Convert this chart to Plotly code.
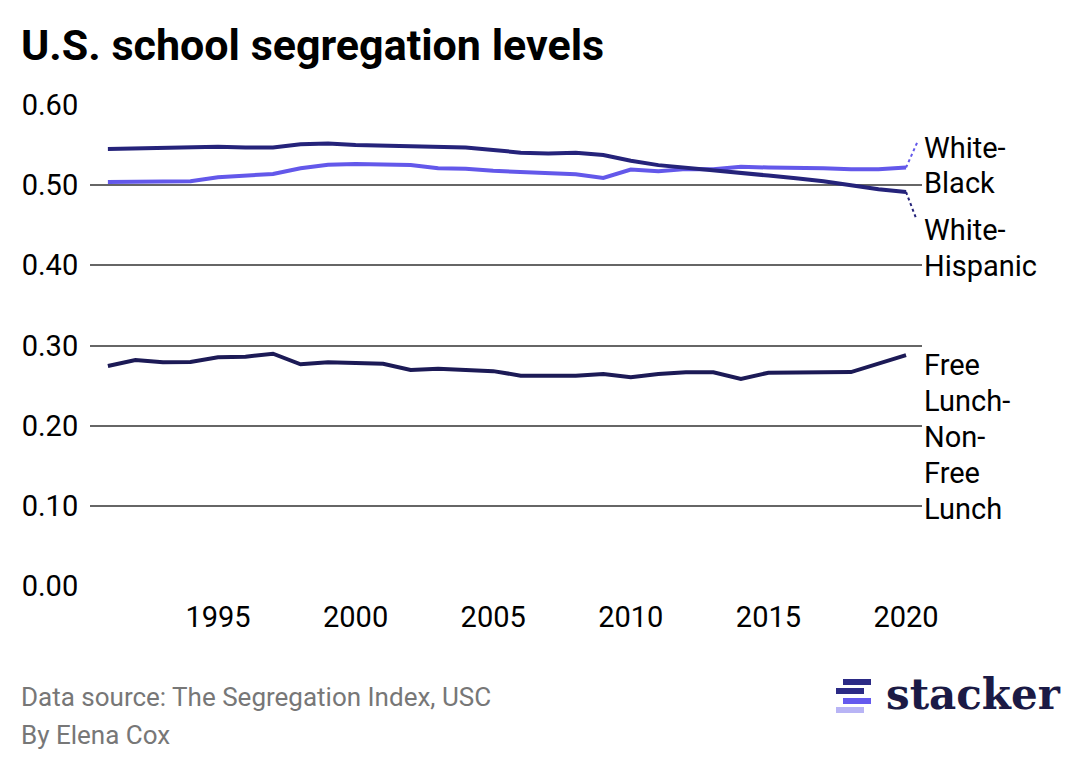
import plotly.graph_objects as go

years = list(range(1991, 2021))

white_black = [0.504, 0.504, 0.504, 0.505, 0.510, 0.512, 0.514, 0.521, 0.5255, 0.5265,
               0.5255, 0.525, 0.521, 0.5205, 0.518, 0.5165, 0.515, 0.5135, 0.509, 0.5195,
               0.5175, 0.520, 0.520, 0.523, 0.522, 0.522, 0.521, 0.520, 0.520, 0.522]

white_hispanic = [0.545, 0.546, 0.547, 0.547, 0.548, 0.547, 0.547, 0.551, 0.552, 0.550,
                  0.549, 0.549, 0.548, 0.547, 0.544, 0.5405, 0.5395, 0.5405, 0.5375, 0.5305,
                  0.525, 0.522, 0.519, 0.5155, 0.512, 0.5085, 0.505, 0.500, 0.495, 0.4915]

free_lunch = [0.2744, 0.282, 0.279, 0.2794, 0.2853, 0.286, 0.2898, 0.2765, 0.279, 0.2786,
              0.2773, 0.2694, 0.2711, 0.2694, 0.268, 0.2624, 0.2624, 0.2624, 0.2645, 0.2603,
              0.2645, 0.2665, 0.2665, 0.2582, 0.2661, 0.2657, 0.2665, 0.2669, 0.2777, 0.288]

y_ticks = [0.0, 0.1, 0.2, 0.3, 0.4, 0.5, 0.6]
x_ticks = [1995, 2000, 2005, 2010, 2015, 2020]

LIGHT = "#6358ea"
DARK = "#25237a"
NAVY = "#1c1a56"
FONT = "Roboto"

# page body adds an 8px offset, so margins are in figure pixels
OFF = 8
W, H = 1080, 770
L, R, T, B = 82, 166, 97, 192


def px_x(p):
    # screenshot pixel -> paper x
    return (p - OFF - L) / (W - L - R)


def px_y(p):
    return (H - B - (p - OFF)) / (H - T - B)


fig = go.Figure()

series = [
    ("White-Black", white_black, LIGHT),
    ("White-Hispanic", white_hispanic, DARK),
    ("Free Lunch-Non-Free Lunch", free_lunch, NAVY),
]
for name, vals, color in series:
    fig.add_trace(go.Scatter(x=years, y=vals, mode="lines", name=name,
                             line=dict(color=color, width=4), cliponaxis=False))

# dotted leaders from line ends to the labels
fig.add_trace(go.Scatter(x=[years[-1], 2020.44], y=[white_black[-1], 0.556], mode="lines",
                         line=dict(color=LIGHT, width=2, dash="dot"), cliponaxis=False))
fig.add_trace(go.Scatter(x=[years[-1], 2020.36], y=[white_hispanic[-1], 0.459], mode="lines",
                         line=dict(color=DARK, width=2, dash="dot"), cliponaxis=False))

labels = [
    ("White-", 148), ("Black", 183),
    ("White-", 230), ("Hispanic", 266),
    ("Free", 365), ("Lunch-", 401), ("Non-", 437), ("Free", 473), ("Lunch", 509),
]
annotations = []
for text, ypix in labels:
    annotations.append(dict(text=text, xref="paper", yref="paper", x=px_x(922), y=px_y(ypix),
                            xanchor="left", yanchor="middle", showarrow=False,
                            font=dict(family=FONT, size=29, color="#000000")))

annotations.append(dict(text="<b>U.S. school segregation levels</b>", xref="paper", yref="paper",
                        x=px_x(19), y=px_y(45), xanchor="left", yanchor="middle", showarrow=False,
                        font=dict(family=FONT, size=43, color="#000000")))
annotations.append(dict(text="Data source: The Segregation Index, USC", xref="paper", yref="paper",
                        x=px_x(19), y=px_y(697), xanchor="left", yanchor="middle", showarrow=False,
                        font=dict(family=FONT, size=26, color="#777777")))
annotations.append(dict(text="By Elena Cox", xref="paper", yref="paper",
                        x=px_x(19), y=px_y(735), xanchor="left", yanchor="middle", showarrow=False,
                        font=dict(family=FONT, size=26, color="#777777")))
annotations.append(dict(text="<b>stacker</b>", xref="paper", yref="paper",
                        x=px_x(884), y=px_y(694), xanchor="left", yanchor="middle", showarrow=False,
                        font=dict(family="DejaVu Serif", size=42, color="#1b1a45")))

# logo bars
shapes = []
for x0, x1, y0, y1, c in [(843, 871, 679, 685, "#2b2a85"), (836, 864, 688, 694, "#2b2a85"),
                          (843, 871, 698, 704, "#6459ee"), (836, 864, 707, 713, "#b8b4f5")]:
    shapes.append(dict(type="rect", xref="paper", yref="paper", x0=px_x(x0), x1=px_x(x1),
                       y0=px_y(y1), y1=px_y(y0), fillcolor=c, line=dict(width=0)))

fig.update_layout(
    width=W, height=H,
    margin=dict(l=L, r=R, t=T, b=B),
    plot_bgcolor="white", paper_bgcolor="white",
    showlegend=False,
    annotations=annotations,
    shapes=shapes,
    xaxis=dict(range=[1990.35, 2020.58], tickvals=x_ticks, showgrid=False, zeroline=False,
               showline=False, ticks="outside", ticklen=5, tickcolor="rgba(0,0,0,0)",
               tickfont=dict(family=FONT, size=29, color="#000000")),
    yaxis=dict(range=[0, 0.6], tickvals=y_ticks, tickformat=".2f", showgrid=True,
               gridcolor="#666666", gridwidth=1.5, zeroline=False, showline=False,
               ticks="outside", ticklen=5, tickcolor="rgba(0,0,0,0)",
               tickfont=dict(family=FONT, size=29, color="#000000")),
)

fig.write_html("out.html")
